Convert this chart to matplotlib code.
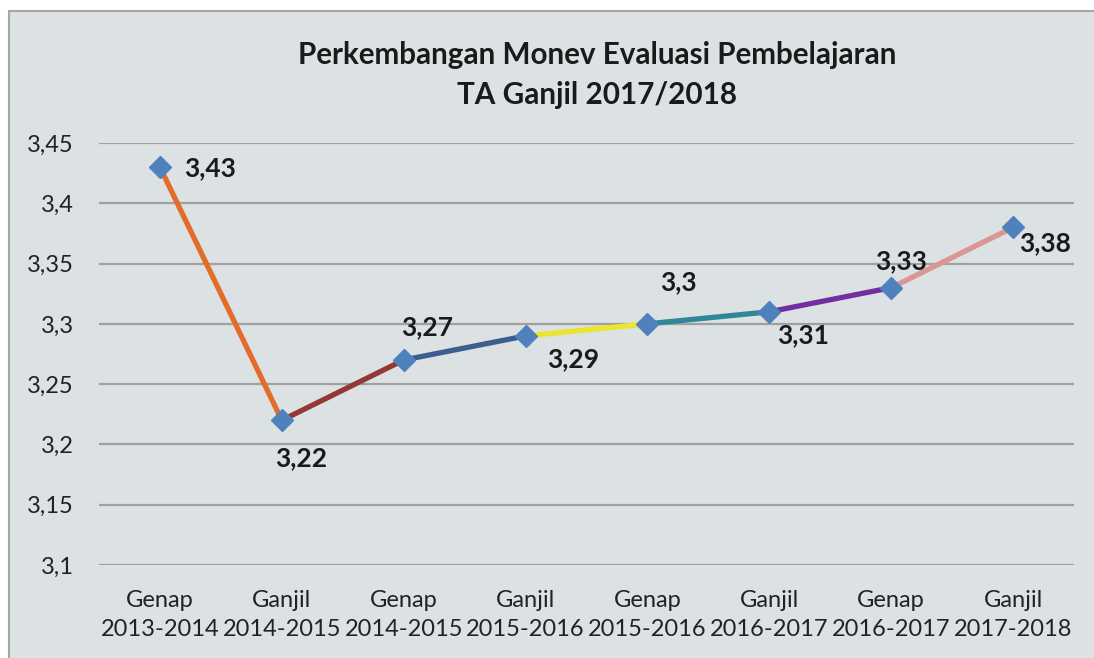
import matplotlib.pyplot as plt
from matplotlib.patches import Rectangle
from matplotlib.ticker import FuncFormatter

plt.rcParams["font.family"] = ["Lato", "DejaVu Sans"]

# data
semesters = ["Genap", "Ganjil", "Genap", "Ganjil", "Genap", "Ganjil", "Genap", "Ganjil"]
years = ["2013-2014", "2014-2015", "2014-2015", "2015-2016",
         "2015-2016", "2016-2017", "2016-2017", "2017-2018"]
scores = [3.43, 3.22, 3.27, 3.29, 3.30, 3.31, 3.33, 3.38]
value_labels = ["3,43", "3,22", "3,27", "3,29", "3,3", "3,31", "3,33", "3,38"]

# one colour per segment, as in the source chart
SEG_COLORS = ["#e46c2a", "#953735", "#3a5f8f", "#ece52e",
              "#31879a", "#7030a0", "#d99694"]
# label offsets in points (dx, dy) for each point
LABEL_OFFSETS = [(36, -1), (14, -27), (17, 24), (34, -17),
                 (22, 30), (24, -17), (7, 19), (23, -11)]

fig = plt.figure(figsize=(10.94, 6.58), dpi=100)
fig.patch.set_facecolor("white")
frame = Rectangle((9 / 1094, -0.1), 1.2, 1 - 11 / 658 + 0.1,
                  transform=fig.transFigure, facecolor="#dce1e4",
                  edgecolor="#a6a6a6", linewidth=1.5, zorder=-5)
fig.add_artist(frame)

ax = fig.add_axes([99 / 1094, 1 - 565 / 658, 975 / 1094, 422 / 658])
ax.set_facecolor("none")
ax.set_zorder(2)

x = list(range(len(scores)))
for i, c in enumerate(SEG_COLORS):
    ax.plot(x[i:i + 2], scores[i:i + 2], color=c, linewidth=3.8,
            solid_capstyle="butt", zorder=3)
ax.plot(x, scores, linestyle="none", marker="D", markersize=11,
        color="#4f81bd", zorder=4)

for xi, yi, lab, (dx, dy) in zip(x, scores, value_labels, LABEL_OFFSETS):
    ax.annotate(lab, (xi, yi), xytext=(dx, dy), textcoords="offset points",
                ha="center", va="center", fontsize=19, fontweight="bold",
                color="#1a1a1a")

ax.set_xlim(-0.5, len(scores) - 0.5)
ax.set_ylim(3.1, 3.45)
ax.set_yticks([3.1, 3.15, 3.2, 3.25, 3.3, 3.35, 3.4, 3.45])
ax.yaxis.set_major_formatter(
    FuncFormatter(lambda v, _: f"{v:.2f}".rstrip("0").rstrip(".").replace(".", ",")))
ax.set_xticks(x)
ax.set_xticklabels([f"{s}\n{y}" for s, y in zip(semesters, years)],
                   linespacing=1.45)
ax.tick_params(axis="both", length=0, labelsize=17, colors="#222222")
ax.tick_params(axis="x", pad=18)
ax.tick_params(axis="y", pad=18)
ax.grid(axis="y", color="#a0a0a0", linewidth=1.6)
ax.set_axisbelow(True)
for sp in ax.spines.values():
    sp.set_visible(False)

fig.text(597 / 1094, 1 - 75 / 658,
         "Perkembangan Monev Evaluasi Pembelajaran\nTA Ganjil 2017/2018",
         ha="center", va="center", fontsize=21.3, fontweight="bold",
         color="#1a1a1a", linespacing=1.55)

fig.savefig("out.png", dpi=100)
